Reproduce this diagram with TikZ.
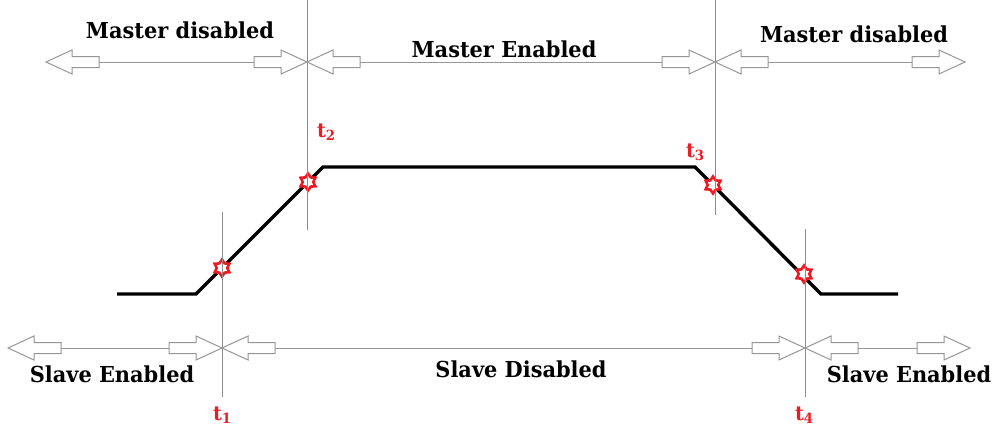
\documentclass[tikz,border=0pt]{standalone}
\usepackage{fontspec}
\setmainfont{DejaVu Serif}[FakeStretch=0.95]
\usetikzlibrary{shapes.geometric}
\definecolor{lgray}{RGB}{140,140,140}
\definecolor{agray}{RGB}{150,150,150}
\definecolor{sred}{RGB}{237,28,36}
\tikzset{
  guide/.style={draw=lgray, line width=0.9pt},
  thinline/.style={draw=agray, line width=1pt},
  signal/.style={draw=black, line width=3.4pt, line join=miter},
  mark6/.style={star, star points=6, star point ratio=1.6, minimum size=17pt, inner sep=0pt, draw=sred, line width=2.6pt, fill=white},
  lbl/.style={font=\fontsize{22}{24}\selectfont\bfseries, anchor=base, inner sep=0pt},
  tlbl/.style={font=\fontsize{20}{22}\selectfont\bfseries, text=sred, anchor=base west, inner sep=0pt},
  blockarrow/.pic={\draw[draw=agray, line width=1pt, fill=white, line join=miter]
     (0,0) -- (-26,12) -- (-26,5.5) -- (-53,5.5) -- (-53,-5.5) -- (-26,-5.5) -- (-26,-12) -- cycle;
     \coordinate (-end) at (-53,0);}
}
\newcommand{\tsub}[2]{#1\raisebox{-0.35ex}{\fontsize{14}{15}\selectfont #2}}
\begin{document}
\begin{tikzpicture}[x=1pt,y=-1pt]
\useasboundingbox (0,0) rectangle (993,426);
% guide lines
\coordinate (g1a) at (222,212); \coordinate (g1b) at (222,397);
\coordinate (g2a) at (307,0);   \coordinate (g2b) at (307,230);
\coordinate (g3a) at (715,0);   \coordinate (g3b) at (715,215);
\coordinate (g4a) at (805,229); \coordinate (g4b) at (805,397);
% signal
\coordinate (s0) at (117,294);
\coordinate (s1) at (196,294);
\coordinate (s2) at (323,167);
\coordinate (s3) at (695,167);
\coordinate (s4) at (821,294);
\coordinate (s5) at (898,294);
\draw[signal] (s0) -- (s1) -- (s2) -- (s3) -- (s4) -- (s5);
% marks
\node[mark6] (m1) at (222,268) {};
\node[mark6] (m2) at (308,182) {};
\node[mark6] (m3) at (713,185) {};
\node[mark6] (m4) at (804,274) {};
\draw[guide] (g1a) -- (g1b);
\draw[guide] (g2a) -- (g2b);
\draw[guide] (g3a) -- (g3b);
\draw[guide] (g4a) -- (g4b);
% top arrows
\pic[rotate=180] (a1) at (46,62) {blockarrow};
\pic (a2) at (307,62) {blockarrow};
\pic[rotate=180] (a3) at (307,62) {blockarrow};
\pic (a4) at (715,62) {blockarrow};
\pic[rotate=180] (a5) at (715,62) {blockarrow};
\pic (a6) at (965,62) {blockarrow};
\draw[thinline] (a1-end) -- (a2-end);
\draw[thinline] (a3-end) -- (a4-end);
\draw[thinline] (a5-end) -- (a6-end);
% bottom arrows
\pic[rotate=180] (b1) at (8,348) {blockarrow};
\pic (b2) at (222,348) {blockarrow};
\pic[rotate=180] (b3) at (222,348) {blockarrow};
\pic (b4) at (805,348) {blockarrow};
\pic[rotate=180] (b5) at (805,348) {blockarrow};
\pic (b6) at (970,348) {blockarrow};
\draw[thinline] (b1-end) -- (b2-end);
\draw[thinline] (b3-end) -- (b4-end);
\draw[thinline] (b5-end) -- (b6-end);
% labels
\node[lbl] (l1) at (180,38) {Master disabled};
\node[lbl] (l2) at (504,57) {Master Enabled};
\node[lbl] (l3) at (854,42) {Master disabled};
\node[lbl] (l4) at (112,382) {Slave Enabled};
\node[lbl] (l5) at (521,377) {Slave Disabled};
\node[lbl] (l6) at (909,382) {Slave Enabled};
\node[tlbl] (t1) at (213,420) {\tsub{t}{1}};
\node[tlbl] (t2) at (317,137) {\tsub{t}{2}};
\node[tlbl] (t3) at (686,157) {\tsub{t}{3}};
\node[tlbl] (t4) at (795,420) {\tsub{t}{4}};
\end{tikzpicture}
\end{document}
